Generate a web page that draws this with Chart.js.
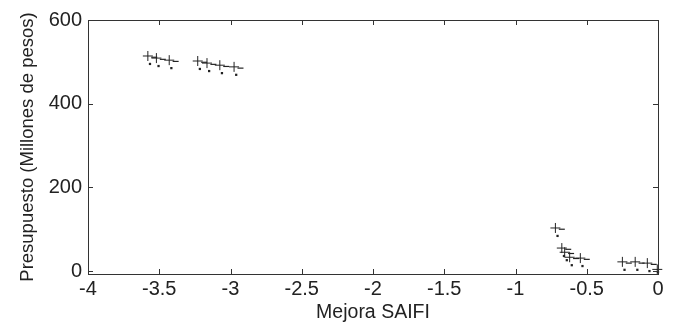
<!DOCTYPE html>
<html>
<head>
<meta charset="utf-8">
<script src="https://cdn.jsdelivr.net/npm/chart.js@4"></script>
<style>
  html, body { margin: 0; padding: 0; background: #fff; }
  #wrap { width: 673px; height: 325px; }
</style>
</head>
<body>
<div id="wrap"><canvas id="grafico"></canvas></div>
<script>
// datos
const mejoraSaifi = [-3.58, -3.52, -3.43, -3.23, -3.165, -3.075, -2.975, -0.72, -0.675, -0.655, -0.62, -0.545, -0.25, -0.16, -0.075, -0.005];
const presupuesto = [514, 509, 504, 502, 497, 492, 488, 103, 55, 45, 33, 31, 22, 22, 19, 4];

// puntitos oscuros debajo de cada cruz
const puntoX = [-3.565, -3.505, -3.415, -3.215, -3.15, -3.06, -2.96, -0.705, -0.66, -0.64, -0.605, -0.53, -0.235, -0.145, -0.06, 0.0];
const puntoY = [495, 490, 485, 483, 478, 473, 469, 84, 36, 26, 14, 12, 3, 3, 0, -2];

// rayitas a la derecha de cada cruz
const rayaX = [-3.535, -3.475, -3.385, -3.185, -3.12, -3.03, -2.93, -0.675, -0.63, -0.61, -0.575, -0.5, -0.205, -0.115, -0.03];
const rayaY = [511, 506, 501, 499, 494, 489, 485, 100, 52, 42, 30, 28, 19, 19, 16];

const ticksX = [-4, -3.5, -3, -2.5, -2, -1.5, -1, -0.5, 0];
const ticksY = [0, 200, 400, 600];

function pares(xs, ys) {
  return xs.map((x, i) => ({ x: x, y: ys[i] }));
}

// marco y marcas hacia adentro, estilo matlab
const marco = {
  id: 'marco',
  afterDraw(chart) {
    const ctx = chart.ctx;
    const a = chart.chartArea;
    const sx = chart.scales.x;
    const sy = chart.scales.y;
    ctx.save();
    ctx.strokeStyle = '#333';
    ctx.lineWidth = 1;
    ctx.strokeRect(a.left + 0.5, a.top + 0.5, a.right - a.left, a.bottom - a.top);
    ctx.beginPath();
    ticksX.forEach(v => {
      const px = Math.round(sx.getPixelForValue(v)) + 0.5;
      ctx.moveTo(px, a.bottom); ctx.lineTo(px, a.bottom - 5);
      ctx.moveTo(px, a.top); ctx.lineTo(px, a.top + 5);
    });
    ticksY.forEach(v => {
      const py = Math.round(sy.getPixelForValue(v)) + 0.5;
      ctx.moveTo(a.left, py); ctx.lineTo(a.left + 5, py);
      ctx.moveTo(a.right, py); ctx.lineTo(a.right - 5, py);
    });
    ctx.stroke();
    ctx.restore();
  }
};

const familia = '"Liberation Sans", Arial, sans-serif';
const fuenteTicks = { family: familia, size: 20 };

new Chart(document.getElementById('grafico'), {
  type: 'scatter',
  data: {
    datasets: [
      {
        label: 'cruces',
        data: pares(mejoraSaifi, presupuesto),
        pointStyle: 'cross',
        pointRadius: 5,
        pointBorderWidth: 1,
        borderColor: '#222',
        backgroundColor: '#222'
      },
      {
        label: 'puntos',
        data: pares(puntoX, puntoY),
        pointStyle: 'rect',
        pointRadius: 1.6,
        pointBorderWidth: 0,
        borderColor: '#222',
        backgroundColor: '#222'
      },
      {
        label: 'rayas',
        data: pares(rayaX, rayaY),
        pointStyle: 'line',
        pointRadius: 3,
        pointBorderWidth: 1.2,
        borderColor: '#222',
        backgroundColor: '#222'
      }
    ]
  },
  options: {
    responsive: true,
    maintainAspectRatio: false,
    animation: false,
    clip: false,
    layout: { padding: { top: 20, right: 15, left: 0, bottom: 0 } },
    plugins: {
      legend: { display: false },
      tooltip: { enabled: false }
    },
    scales: {
      x: {
        type: 'linear',
        min: -4,
        max: 0,
        afterBuildTicks: s => { s.ticks = ticksX.map(v => ({ value: v })); },
        afterFit: s => { s.height = 51; },
        grid: { display: false, drawTicks: false },
        border: { display: false },
        ticks: {
          color: '#222', font: fuenteTicks, padding: 3, maxRotation: 0, autoSkip: false,
          callback: v => String(v)
        },
        title: {
          display: true, text: 'Mejora SAIFI', color: '#222',
          font: { family: familia, size: 19.5 }, padding: { top: 0, bottom: 1 }
        }
      },
      y: {
        type: 'linear',
        min: -7,
        max: 600,
        afterBuildTicks: s => { s.ticks = ticksY.map(v => ({ value: v })); },
        afterFit: s => { s.width = 88; },
        grid: { display: false, drawTicks: false },
        border: { display: false },
        ticks: { color: '#222', font: fuenteTicks, padding: 6, callback: v => String(v) },
        title: {
          display: true, text: 'Presupuesto (Millones de pesos)', color: '#222',
          font: { family: familia, size: 18.5 }, padding: { top: 17, bottom: 0 }
        }
      }
    }
  },
  plugins: [marco]
});
</script>
</body>
</html>
